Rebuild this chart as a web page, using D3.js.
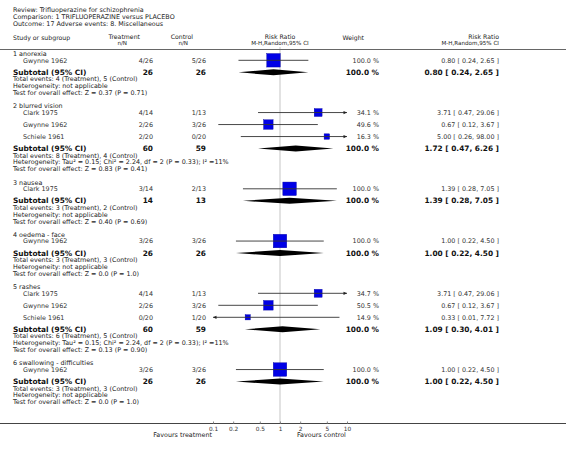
<!DOCTYPE html>
<html><head><meta charset="utf-8">
<script src="https://cdn.jsdelivr.net/npm/d3@7"></script>
<style>
body{margin:0;background:#fff;}
svg{display:block;font-family:"DejaVu Sans",sans-serif;}
</style></head>
<body><svg id="c" width="566" height="453"></svg>
<script>
// ---- data ----
const titleLines = ["Review:  Trifluoperazine for schizophrenia",
  "Comparison:  1 TRIFLUOPERAZINE versus PLACEBO",
  "Outcome:  17 Adverse events: 8. Miscellaneous"];
const groupNames = ["1 anorexia","2 blurred vision","3 nausea","4 oedema - face","5 rashes","6 swallowing - difficulties"];
const studyGroup = [0,1,1,1,2,3,4,4,4,5];
const studyNames = ["Gwynne 1962","Clark 1975","Gwynne 1962","Schiele 1961","Clark 1975","Gwynne 1962","Clark 1975","Gwynne 1962","Schiele 1961","Gwynne 1962"];
const treatText = ["4/26","4/14","2/26","2/20","3/14","3/26","4/14","2/26","0/20","3/26"];
const ctrlText = ["5/26","1/13","3/26","0/20","2/13","3/26","1/13","3/26","1/20","3/26"];
const studyWeight = [100.0,34.1,49.6,16.3,100.0,100.0,34.7,50.5,14.9,100.0];
const studyRR = [0.80,3.71,0.67,5.00,1.39,1.00,3.71,0.67,0.33,1.00];
const studyLo = [0.24,0.47,0.12,0.26,0.28,0.22,0.47,0.12,0.01,0.22];
const studyHi = [2.65,29.06,3.67,98.00,7.05,4.50,29.06,3.67,7.72,4.50];
const subTreatN = [26,60,14,26,60,26];
const subCtrlN = [26,59,13,26,59,26];
const subRR = [0.80,1.72,1.39,1.00,1.09,1.00];
const subLo = [0.24,0.47,0.28,0.22,0.30,0.22];
const subHi = [2.65,6.26,7.05,4.50,4.01,4.50];
const totalEvents = ["Total events: 4 (Treatment), 5 (Control)","Total events: 8 (Treatment), 4 (Control)",
  "Total events: 3 (Treatment), 2 (Control)","Total events: 3 (Treatment), 3 (Control)",
  "Total events: 6 (Treatment), 5 (Control)","Total events: 3 (Treatment), 3 (Control)"];
const hetero = ["Heterogeneity: not applicable","Heterogeneity: Tau² = 0.15; Chi² = 2.24, df = 2 (P = 0.33); I² =11%",
  "Heterogeneity: not applicable","Heterogeneity: not applicable",
  "Heterogeneity: Tau² = 0.15; Chi² = 2.24, df = 2 (P = 0.33); I² =11%","Heterogeneity: not applicable"];
const overall = ["Test for overall effect: Z = 0.37 (P = 0.71)","Test for overall effect: Z = 0.83 (P = 0.41)",
  "Test for overall effect: Z = 0.40 (P = 0.69)","Test for overall effect: Z = 0.0 (P = 1.0)",
  "Test for overall effect: Z = 0.13 (P = 0.90)","Test for overall effect: Z = 0.0 (P = 1.0)"];
const tickValues = [0.1,0.2,0.5,1,2,5,10];
const tickLabels = ["0.1","0.2","0.5","1","2","5","10"];
const axisDomain = [0.1,10];

// ---- layout ----
const svg = d3.select("#c");
const x = d3.scaleLog().domain(axisDomain).range([213,347]);
const f2 = d3.format(".2f");
const txt = "#222";
const small = 6.4, bold = 7.4;
const colStudy = 13, colStudy2 = 23, colT = 153, colC = 206, colW = 379, colR = 499;
const axisY = 423;

function text(xp, yp, s, opt={}) {
  return svg.append("text").attr("x", xp).attr("y", yp).attr("dy", "0.35em")
    .attr("font-size", opt.size || small).attr("font-weight", opt.weight || "normal")
    .attr("text-anchor", opt.anchor || "start").attr("fill", opt.fill || txt).text(s);
}

// reference line
svg.append("line").attr("x1", x(1)).attr("x2", x(1)).attr("y1", 47).attr("y2", axisY)
  .attr("stroke", "#d8d8d8").attr("stroke-width", 1.5);

// titles
titleLines.forEach((t,i) => text(colStudy, 10 + i*7, t, {size:6.4}));
// header
text(colStudy, 37.5, "Study or subgroup", {size:6.2});
text(140, 37, "Treatment", {size:6.2, anchor:"end"});
text(127, 43.5, "n/N", {size:5.6, anchor:"end"});
text(193, 37, "Control", {size:6.2, anchor:"end"});
text(188, 43.5, "n/N", {size:5.6, anchor:"end"});
text(x(1), 37, "Risk Ratio", {size:6.2, anchor:"middle"});
text(x(1), 43.5, "M-H,Random,95% CI", {size:5.6, anchor:"middle"});
text(364, 37.5, "Weight", {size:6.2, anchor:"end"});
text(colR, 37, "Risk Ratio", {size:6.2, anchor:"end"});
text(colR, 43.5, "M-H,Random,95% CI", {size:5.6, anchor:"end"});
svg.append("line").attr("x1",0).attr("x2",566).attr("y1",49.5).attr("y2",49.5).attr("stroke","#666").attr("stroke-width",1);

// rows
let y = 54;
const sqMax = 13.5;
groupNames.forEach((g, gi) => {
  text(colStudy, y, g);
  y += 6.3;
  const idx = studyGroup.map((s,i)=>s===gi?i:-1).filter(i=>i>=0);
  idx.forEach((i, k) => {
    if (k>0) y += 12;
    text(colStudy2, y, studyNames[i], {fill:"#333"});
    text(colT, y, treatText[i], {anchor:"end", fill:"#333"});
    text(colC, y, ctrlText[i], {anchor:"end", fill:"#333"});
    text(colW, y, studyWeight[i].toFixed(1) + " %", {anchor:"end", fill:"#333"});
    text(colR, y, `${f2(studyRR[i])} [ ${f2(studyLo[i])}, ${f2(studyHi[i])} ]`, {anchor:"end", fill:"#333"});
    const lo = Math.max(studyLo[i], axisDomain[0]), hi = Math.min(studyHi[i], axisDomain[1]);
    const s = sqMax*Math.sqrt(studyWeight[i]/100);
    svg.append("rect").attr("x", x(studyRR[i])-s/2).attr("y", y-s/2).attr("width", s).attr("height", s)
      .attr("fill", "#0000e6").attr("stroke","#0000a0").attr("stroke-width",0.4);
    svg.append("line").attr("x1", x(lo)).attr("x2", x(hi)).attr("y1", y).attr("y2", y)
      .attr("stroke", "#333").attr("stroke-width", 0.9);
    if (studyHi[i] > axisDomain[1]) {
      const xe = x(axisDomain[1]);
      svg.append("path").attr("d", `M${xe},${y} L${xe-3.5},${y-1.6} L${xe-3.5},${y+1.6} Z`).attr("fill","#222");
    }
    if (studyLo[i] < axisDomain[0]) {
      const xe = x(axisDomain[0]);
      svg.append("path").attr("d", `M${xe},${y} L${xe+3.5},${y-1.6} L${xe+3.5},${y+1.6} Z`).attr("fill","#222");
    }
  });
  y += 12;
  text(colStudy, y, "Subtotal (95% CI)", {size:bold, weight:"bold", fill:"#111"});
  text(colT, y, subTreatN[gi], {size:bold, weight:"bold", anchor:"end", fill:"#111"});
  text(colC, y, subCtrlN[gi], {size:bold, weight:"bold", anchor:"end", fill:"#111"});
  text(colW, y, "100.0 %", {size:bold, weight:"bold", anchor:"end", fill:"#111"});
  text(colR, y, `${f2(subRR[gi])} [ ${f2(subLo[gi])}, ${f2(subHi[gi])} ]`, {size:bold, weight:"bold", anchor:"end", fill:"#111"});
  const h = 3;
  svg.append("path").attr("d", `M${x(subLo[gi])},${y} L${x(subRR[gi])},${y-h} L${x(subHi[gi])},${y} L${x(subRR[gi])},${y+h} Z`)
    .attr("fill", "#000");
  y += 6.85; text(colStudy, y, totalEvents[gi]);
  y += 6.85; text(colStudy, y, hetero[gi]);
  y += 6.85; text(colStudy, y, overall[gi]);
  y += 13.4;
});

// axis
svg.append("line").attr("x1",0).attr("x2",566).attr("y1",axisY+0.5).attr("y2",axisY+0.5).attr("stroke","#444").attr("stroke-width",1);
const ax = d3.axisBottom(x).tickValues(tickValues).tickFormat((d,i)=>tickLabels[i]).tickSizeInner(-2).tickSizeOuter(0).tickPadding(3);
const g = svg.append("g").attr("transform", `translate(0,${axisY+0.5})`).call(ax);
g.select(".domain").remove();
g.selectAll(".tick line").attr("stroke","#888");
g.selectAll(".tick text").attr("font-size",5.8).attr("font-family","DejaVu Sans").attr("fill","#333");
text(212, 434.5, "Favours treatment", {anchor:"end"});
text(297, 434.5, "Favours control");
</script></body></html>
